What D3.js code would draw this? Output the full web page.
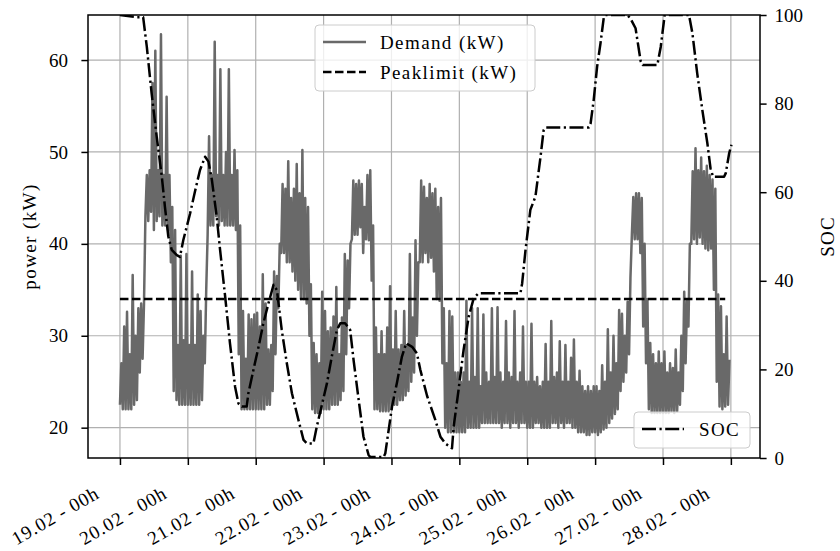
<!DOCTYPE html>
<html>
<head>
<meta charset="utf-8">
<script src="https://cdn.jsdelivr.net/npm/d3@7/dist/d3.min.js"></script>
<style>
  body { margin: 0; background: #fff; }
  svg text { font-family: 'Liberation Serif', 'DejaVu Serif', serif; font-size: 19px; fill: #000; }
</style>
</head>
<body>
<div id="chart"></div>
<script>
// hours counted from 19.02 - 00h
const tickHours = [0, 24, 48, 72, 96, 120, 144, 168, 192, 216];
const tickLabels = ['19.02 - 00h', '20.02 - 00h', '21.02 - 00h', '22.02 - 00h', '23.02 - 00h',
  '24.02 - 00h', '25.02 - 00h', '26.02 - 00h', '27.02 - 00h', '28.02 - 00h'];
const powerTicks = [20, 30, 40, 50, 60];
const socTicks = [0, 20, 40, 60, 80, 100];

// demand (kW): per hour, lower and upper value of the 15-min samples, one day per row
const demandLow = [
  22.5, 22, 22, 22, 22, 22.5, 23, 26, 27.5, 43, 42.5, 43.5, 41.5, 42.5, 43, 42, 42, 41.5, 38, 24, 23, 22.5, 22.5, 22.5,
  22.5, 22.5, 22.5, 22.5, 22.5, 23, 27, 41, 42, 42, 43, 42, 42.5, 42, 42, 42, 42, 41.5, 28, 22, 22, 22, 22, 22,
  22, 22, 22, 22, 22.5, 22.5, 24, 28, 33, 39, 39, 38, 38, 37, 36, 35, 34, 34, 33.5, 30, 22, 21.6, 21.6, 21.6,
  22, 22, 22, 22.5, 22.5, 22.5, 23, 24, 28, 33, 40.5, 41, 41, 41.8, 39, 40.5, 40.4, 36, 22, 22, 21.8, 21.8, 21.8, 21.8,
  22, 22.5, 22.5, 23, 23, 23.5, 24, 25, 26, 30, 38, 38, 39, 38, 38.5, 37, 34, 33.8, 27, 20, 19.5, 19.5, 19.5, 19.5,
  19.5, 19.5, 19.5, 20, 20, 20, 20, 20, 20.5, 20.5, 20.5, 20.5, 20.5, 20.5, 20.5, 20, 20.5, 20.5, 20, 20.5, 20.5, 20, 20.5, 20.5,
  20, 20, 20, 20.5, 20.5, 20, 20, 20, 20, 20.5, 20.5, 20, 20.5, 20, 20.5, 20.5, 20, 20, 19.5, 19.5, 19.5, 19.2, 19.2, 19.5,
  19.5, 19.2, 19.5, 19.8, 20, 20.5, 21, 21.5, 22, 24, 25, 26, 28, 41, 40.5, 40.5, 39, 31, 27, 22, 21.6, 21.6, 21.6, 21.6,
  21.6, 21.6, 21.6, 21.8, 21.6, 21.8, 22.5, 24, 27, 31, 40, 40.5, 40, 40.7, 40, 39.5, 39.3, 39.5, 35, 25, 22.3, 22, 22.3, 22.5
];
const demandHigh = [
  27, 31, 32.6, 28, 36.6, 30, 33, 33.5, 33.5, 47.5, 48, 57.5, 61, 48, 62.8, 47.5, 56, 47.5, 44, 41.5, 29, 38.7, 29.5, 38.9,
  29, 37, 29, 34.5, 32.7, 30, 35, 51.7, 47.5, 62, 47.5, 59, 47.5, 50, 59, 47.5, 50.2, 48, 42, 32.7, 27.5, 32.3, 31.8, 32.3,
  32.5, 31, 36.7, 33.5, 28.5, 29, 37, 36.5, 40, 46.5, 46, 49, 45, 46, 48.7, 45.5, 50.2, 45, 44, 35.6, 29.2, 28, 27, 34.8,
  32.7, 30.5, 30.9, 32.1, 35.3, 28, 32, 38.9, 38.2, 40, 46.9, 46.5, 46.9, 46.5, 44, 47.5, 48, 42, 30.9, 28, 30.5, 28, 30.9, 35.4,
  28.5, 32.7, 28.5, 29, 32.7, 29, 38.9, 32, 40.4, 38, 46.9, 46.2, 45, 46.5, 45.5, 46, 44, 45, 33, 27, 32.7, 32.1, 26, 26,
  25, 26, 33.8, 25, 33, 25.5, 33, 24.5, 32.3, 26, 25, 33, 25.5, 33.1, 26, 25, 31.6, 26, 25.5, 32.7, 25, 26, 31, 25,
  25, 31.3, 25, 25.5, 24.5, 25, 29.1, 25, 31.6, 25.5, 26, 29.4, 25, 29, 25, 27.6, 29.6, 25, 26.2, 24.5, 24, 24.5, 24, 24.5,
  24.5, 24, 26.8, 25, 30.7, 26, 30, 27, 32.8, 32.4, 30, 33.7, 36.4, 45.1, 45.5, 45.5, 45, 40, 34, 29.2, 28, 27, 28.3, 27,
  28.3, 26, 27, 26.5, 28.5, 26, 30, 34.8, 33.8, 40, 47.9, 50.4, 48, 49.4, 47.9, 48.5, 47.5, 47, 46, 34.5, 33.2, 28, 32.1, 27.4
];

const peakLimit = 34;
const peakHours = [0, 214];

// state of charge (%)
const socHours = [0, 5.9, 8.2, 9.5, 11.2, 13, 14.8, 15.9, 17.1, 18.3, 20.1, 21.2, 22.4, 24.8, 26.5, 28.3, 30.1, 31.3,
  32.5, 34.2, 35.4, 37.2, 38.9, 40.7, 41.9, 43.1, 44.8, 45.4, 47.2, 49, 50.7, 52.5, 54.3, 55.5, 57.2, 59, 60.8, 63.1,
  64.9, 66.1, 68.4, 69.6, 71.4, 73.2, 74.9, 76.7, 77.9, 79.6, 81.4, 82.6, 84.4, 86.1, 87.9, 88.5, 93.2, 93.8, 95,
  96.2, 97.9, 99.7, 101.2, 103.3, 105, 106.2, 108.6, 111.5, 113.3, 115, 117.4, 118, 119.7, 121.5, 123.3, 125.1, 126.8,
  141.6, 142.2, 143.4, 145.1, 146.9, 148.7, 149.8, 150.4, 165.8, 166.4, 167.5, 168.7, 169.9, 171.1, 171.7, 179.4,
  180.5, 182.3, 184.1, 184.8, 190, 191.2, 192.6, 201.2, 202.4, 204.1, 205.9, 207.7, 208.8, 209.7, 213.6, 214.2, 215.4, 216.2];
const socValues = [100, 99.5, 99.5, 92.8, 82.3, 72.5, 63.5, 56.7, 50, 47, 45.8, 45.4, 49.2, 55.2, 60.1, 65, 68, 66.9,
  62.8, 54.5, 47, 36.4, 25.9, 16.1, 12.3, 11.6, 11.6, 14.6, 19.9, 25.1, 30.4, 34.9, 39.1, 37.9, 28.9, 21.4, 14.6, 8.6,
  4.1, 3.3, 3.3, 7.1, 12, 16.9, 22.9, 28.9, 30.4, 30.4, 28.9, 22.1, 13.1, 4.8, 0.7, 0.2, 0.2, 1, 6.3,
  11.6, 16.9, 22.9, 25.9, 25.1, 23.6, 19.9, 14, 8.6, 4.8, 3.3, 2.2, 7.1, 15.3, 24.4, 31.9, 36.1, 37.2,
  37.2, 39.4, 47, 56, 59, 68, 74, 74.6, 74.6, 75.5, 80.8, 88.3, 93.6, 99.6, 100, 100,
  99.2, 97, 89.6, 88.7, 88.7, 92.8, 100, 100, 95.9, 86.8, 78.6, 71, 65.4, 63.5, 63.5, 64.3, 68.8, 70.7];

class DemandChart {
  constructor(container) {
    this.width = 840;
    this.height = 551;
    this.plot = { left: 88, top: 15, right: 760, bottom: 458 };
    this.svg = container.append('svg')
      .attr('width', this.width)
      .attr('height', this.height);

    this.x = d3.scaleLinear().domain([-11.3, 226.3]).range([this.plot.left, this.plot.right]);
    this.yPower = d3.scaleLinear().domain([16.7, 64.9]).range([this.plot.bottom, this.plot.top]);
    this.ySoc = d3.scaleLinear().domain([0, 100]).range([this.plot.bottom, this.plot.top]);

    this.svg.append('defs').append('clipPath').attr('id', 'plot-clip')
      .append('rect')
      .attr('x', this.plot.left)
      .attr('y', this.plot.top)
      .attr('width', this.plot.right - this.plot.left)
      .attr('height', this.plot.bottom - this.plot.top);
  }

  drawGrid() {
    let grid = this.svg.append('g').attr('stroke', '#b0b0b0').attr('stroke-width', 1.2);
    grid.selectAll('line.vx')
      .data(tickHours)
      .join('line')
      .attr('x1', d => this.x(d)).attr('x2', d => this.x(d))
      .attr('y1', this.plot.top).attr('y2', this.plot.bottom);
    grid.selectAll('line.hy')
      .data(powerTicks)
      .join('line')
      .attr('x1', this.plot.left).attr('x2', this.plot.right)
      .attr('y1', d => this.yPower(d)).attr('y2', d => this.yPower(d));
  }

  drawAxes() {
    let bottom = this.svg.append('g')
      .attr('transform', `translate(0, ${this.plot.bottom})`)
      .call(d3.axisBottom(this.x).tickValues(tickHours).tickFormat((d, i) => tickLabels[i]).tickSize(7).tickSizeOuter(0));
    bottom.selectAll('text')
      .attr('x', 0).attr('y', 0).attr('dy', 0)
      .attr('text-anchor', 'end')
      .style('letter-spacing', '0.9px')
      .attr('transform', 'translate(-20, 39) rotate(-30)');

    this.svg.append('g')
      .attr('transform', `translate(${this.plot.left}, 0)`)
      .call(d3.axisLeft(this.yPower).tickValues(powerTicks).tickSize(6.6).tickPadding(13.4).tickSizeOuter(0));

    this.svg.append('g')
      .attr('transform', `translate(${this.plot.right}, 0)`)
      .call(d3.axisRight(this.ySoc).tickValues(socTicks).tickSize(6.6).tickPadding(8).tickSizeOuter(0));

    this.svg.selectAll('.domain').remove();
    this.svg.selectAll('.tick line').attr('stroke', '#000').attr('stroke-width', 1.5);
    this.svg.selectAll('.tick text').style('font-size', '19px');

    this.svg.append('rect')
      .attr('x', this.plot.left).attr('y', this.plot.top)
      .attr('width', this.plot.right - this.plot.left)
      .attr('height', this.plot.bottom - this.plot.top)
      .attr('fill', 'none').attr('stroke', '#000').attr('stroke-width', 1.5);

    let midY = (this.plot.top + this.plot.bottom) / 2;
    this.svg.append('text')
      .attr('transform', `translate(36, ${midY}) rotate(-90)`)
      .attr('text-anchor', 'middle')
      .style('letter-spacing', '1.4px')
      .text('power (kW)');
    this.svg.append('text')
      .attr('transform', `translate(834, ${midY}) rotate(-90)`)
      .attr('text-anchor', 'middle')
      .style('letter-spacing', '1.2px')
      .text('SOC');
  }

  drawLines() {
    let lines = this.svg.append('g').attr('clip-path', 'url(#plot-clip)');

    let demandPoints = demandLow.flatMap((lo, i) => [[i, lo], [i + 0.5, demandHigh[i]]]);
    let powerLine = d3.line().x(d => this.x(d[0])).y(d => this.yPower(d[1]));
    lines.append('path')
      .attr('d', powerLine(demandPoints))
      .attr('fill', 'none')
      .attr('stroke', '#696969')
      .attr('stroke-width', 2.5)
      .attr('stroke-linejoin', 'round');

    lines.append('path')
      .attr('d', powerLine(peakHours.map(h => [h, peakLimit])))
      .attr('fill', 'none')
      .attr('stroke', '#000')
      .attr('stroke-width', 2.5)
      .attr('stroke-dasharray', '8.5,3.5');

    let socLine = d3.line().x(d => this.x(d[0])).y(d => this.ySoc(d[1]));
    lines.append('path')
      .attr('d', socLine(socHours.map((h, i) => [h, socValues[i]])))
      .attr('fill', 'none')
      .attr('stroke', '#000')
      .attr('stroke-width', 2.5)
      .attr('stroke-linejoin', 'round')
      .attr('stroke-dasharray', '14,3.5,2.2,3.5');
  }

  drawLegend(box, items) {
    let legend = this.svg.append('g');
    legend.append('rect')
      .attr('x', box.x).attr('y', box.y)
      .attr('width', box.w).attr('height', box.h)
      .attr('rx', 4)
      .attr('fill', '#fff').attr('fill-opacity', 0.8)
      .attr('stroke', '#cccccc').attr('stroke-width', 1);
    let rows = legend.selectAll('g.item')
      .data(items)
      .join('g')
      .attr('transform', (d, i) => `translate(${box.x}, ${box.y + 17 + i * 30})`);
    rows.append('line')
      .attr('x1', 8).attr('x2', box.lineEnd)
      .attr('stroke', d => d.color)
      .attr('stroke-width', 2.5)
      .attr('stroke-dasharray', d => d.dash);
    rows.append('text')
      .attr('x', box.textX)
      .attr('dy', 7)
      .style('letter-spacing', '1.4px')
      .text(d => d.label);
  }

  render() {
    this.drawGrid();
    this.drawLines();
    this.drawAxes();
    this.drawLegend({ x: 315, y: 25, w: 220, h: 66, lineEnd: 51, textX: 65 }, [
      { label: 'Demand (kW)', color: '#696969', dash: null },
      { label: 'Peaklimit (kW)', color: '#000', dash: '8.5,3.5' }
    ]);
    this.drawLegend({ x: 634, y: 412, w: 116, h: 36, lineEnd: 50, textX: 65 }, [
      { label: 'SOC', color: '#000', dash: '14,3.5,2.2,3.5' }
    ]);
  }
}

let chart = new DemandChart(d3.select('#chart'));
chart.render();
</script>
</body>
</html>
